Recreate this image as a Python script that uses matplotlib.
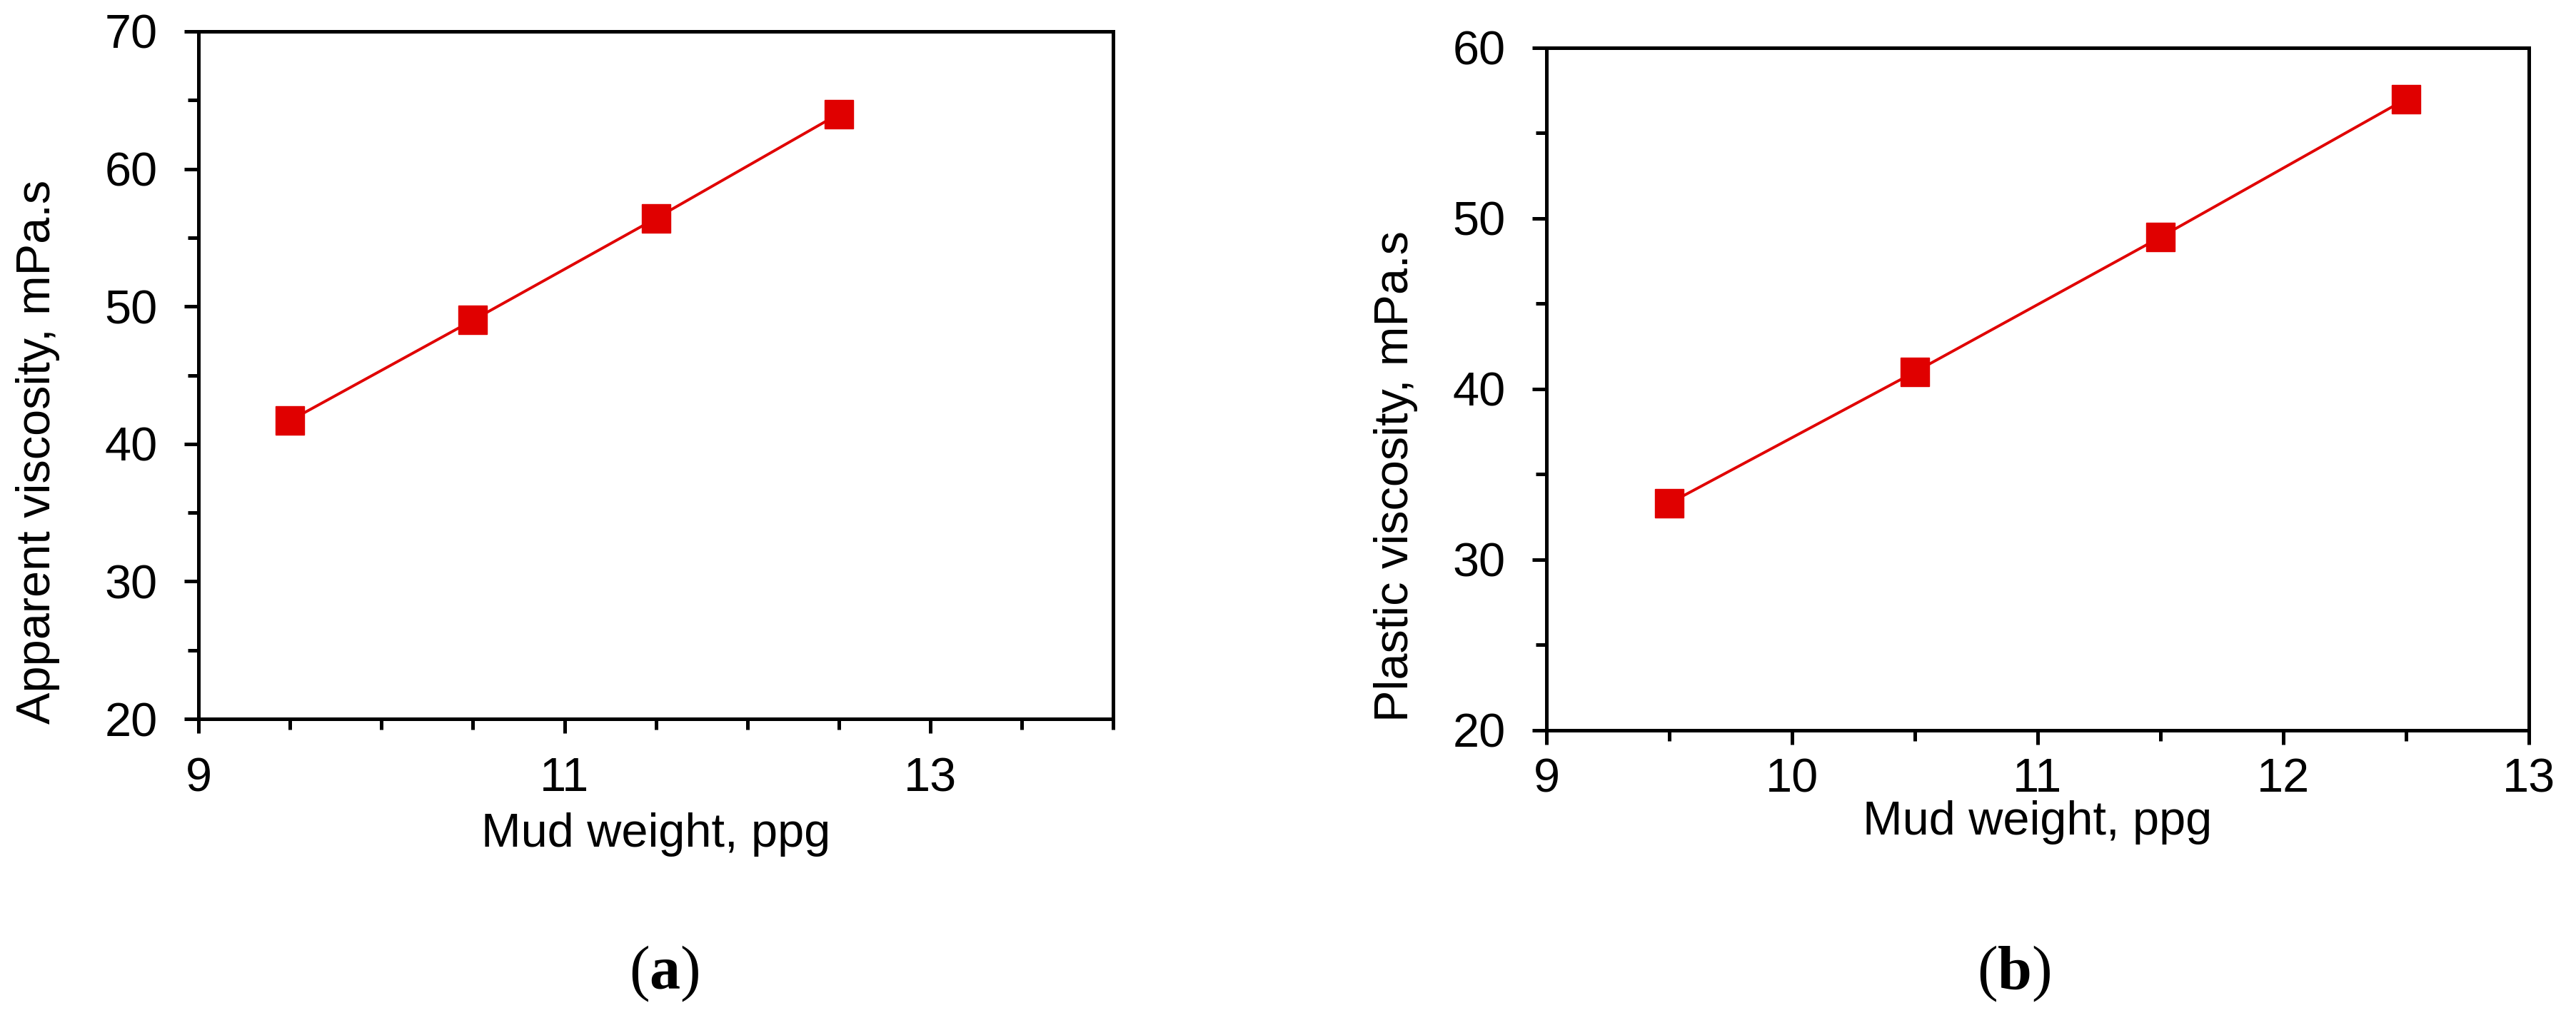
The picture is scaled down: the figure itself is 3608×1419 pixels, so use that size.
import matplotlib
matplotlib.use('Agg')
import matplotlib.pyplot as plt
from matplotlib.ticker import MultipleLocator, FixedLocator

# Data
mud_weight = [9.5, 10.5, 11.5, 12.5]
apparent_visc = [41.7, 49.0, 56.4, 64.0]
plastic_visc = [33.3, 41.0, 48.9, 57.0]
a_xticks = [9, 11, 13]

red = '#E00000'
plt.rcParams['font.family'] = ['Liberation Sans', 'DejaVu Sans']
plt.rcParams['mathtext.fontset'] = 'custom'
plt.rcParams['mathtext.rm'] = 'Liberation Serif'
plt.rcParams['mathtext.bf'] = 'Liberation Serif:bold'

fig = plt.figure(figsize=(36.08, 14.19), dpi=100)
ax1 = fig.add_axes([0.0771, 0.2903, 0.355, 0.6787])
ax2 = fig.add_axes([0.6003, 0.2791, 0.3814, 0.6737])


def style(ax, xpad):
    for s in ax.spines.values():
        s.set_linewidth(3.6)
    ax.tick_params(which='major', direction='out', length=14.4, width=3.6,
                   labelsize=48)
    ax.tick_params(which='minor', direction='out', length=11, width=3.6)
    ax.tick_params(axis='x', which='major', pad=xpad)
    ax.tick_params(axis='y', which='major', pad=27)


# (a) apparent viscosity
ax1.plot(mud_weight, apparent_visc, color=red, lw=2.8, marker='s', ms=28.8)
ax1.set_xlim(9, 14)
ax1.set_ylim(20, 70)
ax1.xaxis.set_major_locator(FixedLocator(a_xticks))
ax1.xaxis.set_minor_locator(MultipleLocator(0.5))
ax1.yaxis.set_major_locator(MultipleLocator(10))
ax1.yaxis.set_minor_locator(MultipleLocator(5))
style(ax1, 24)
ax1.set_xlabel('Mud weight, ppg', fontsize=48, va='center')
ax1.set_ylabel('Apparent viscosity, mPa.s', fontsize=48, va='center')
ax1.xaxis.set_label_coords(0.5, -0.168)
ax1.yaxis.set_label_coords(-0.176, 0.388)

# (b) plastic viscosity
ax2.plot(mud_weight, plastic_visc, color=red, lw=2.8, marker='s', ms=28.8)
ax2.set_xlim(9, 13)
ax2.set_ylim(20, 60)
ax2.xaxis.set_major_locator(MultipleLocator(1))
ax2.xaxis.set_minor_locator(MultipleLocator(0.5))
ax2.yaxis.set_major_locator(MultipleLocator(10))
ax2.yaxis.set_minor_locator(MultipleLocator(5))
style(ax2, 13)
ax2.set_xlabel('Mud weight, ppg', fontsize=48, va='center')
ax2.set_ylabel('Plastic viscosity, mPa.s', fontsize=48, va='center')
ax2.xaxis.set_label_coords(0.5, -0.135)
ax2.yaxis.set_label_coords(-0.153, 0.372)

# captions
fig.text(930 / 3608, 1 - 1364 / 1419, r'($\mathbf{a}$)', fontsize=62,
         family='Liberation Serif', ha='center', va='center')
fig.text(2821 / 3608, 1 - 1364 / 1419, r'($\mathbf{b}$)', fontsize=62,
         family='Liberation Serif', ha='center', va='center')

fig.savefig('out.png', dpi=100)
